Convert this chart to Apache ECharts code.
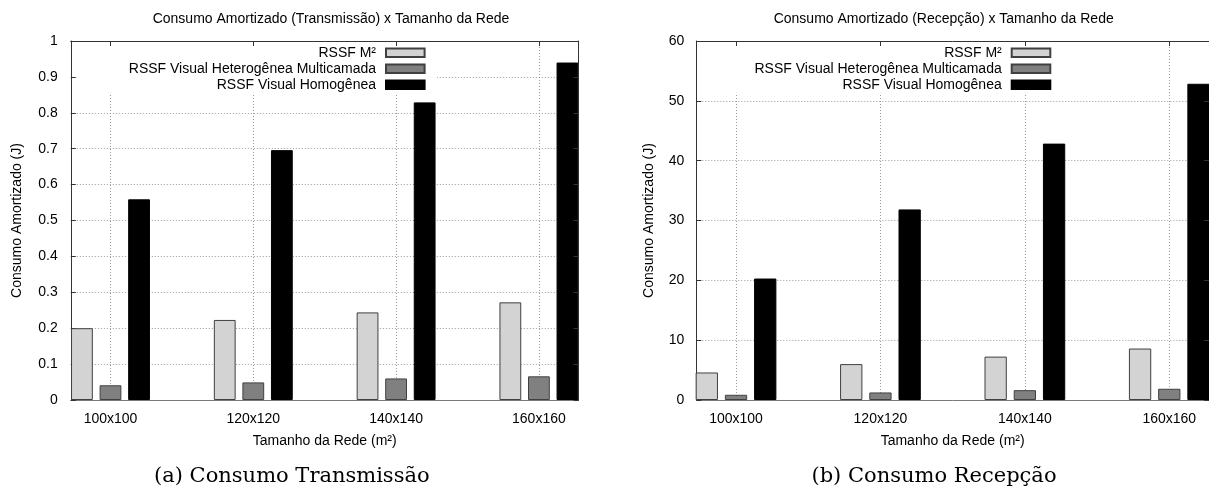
<!DOCTYPE html>
<html><head><meta charset="utf-8">
<script src="https://cdn.jsdelivr.net/npm/echarts@6/dist/echarts.min.js"></script>
<style>html,body{margin:0;padding:0;background:#fff}#c{width:1209px;height:491px}</style>
</head><body><div id="c"></div>
<script>
// ---- data ----
const categories = ['100x100', '120x120', '140x140', '160x160'];
const seriesNames = ['RSSF M²', 'RSSF Visual Heterogênea Multicamada', 'RSSF Visual Homogênea'];
const txM2  = [0.200, 0.223, 0.244, 0.272];
const txHet = [0.041, 0.049, 0.060, 0.066];
const txHom = [0.559, 0.696, 0.829, 0.940];
const rxM2  = [4.6, 6.0, 7.25, 8.6];
const rxHet = [0.87, 1.26, 1.64, 1.88];
const rxHom = [20.3, 31.85, 42.85, 52.85];
const titleTx = 'Consumo Amortizado (Transmissão) x Tamanho da Rede';
const titleRx = 'Consumo Amortizado (Recepção) x Tamanho da Rede';
const captionTx = '(a) Consumo Transmissão';
const captionRx = '(b) Consumo Recepção';
const xName = 'Tamanho da Rede (m²)';
const yName = 'Consumo Amortizado (J)';

// ---- styles / layout ----
const FONT = 'Liberation Sans';
const fills = ['#d3d3d3', '#808080', '#000000'];
const borders = ['#404040', '#404040', '#000000'];
const catIdx = categories.map((c, i) => i);
const pairs = vals => vals.map((v, i) => [catIdx[i], v]);

const panels = [
  {left: 70.8, top: 41, width: 507.8, height: 359, xmin: -0.278, xmax: 3.278, ymax: 1, yint: 0.1,
   barW: 21.8, nameGap: 47, labelMargin: 13, data: [txM2, txHet, txHom], legendRight: 772.4},
  {left: 696.3, top: 41, width: 515.8, height: 359, xmin: -0.275, xmax: 3.275, ymax: 60, yint: 10,
   barW: 22.3, nameGap: 40, labelMargin: 12, data: [rxM2, rxHet, rxHom], legendRight: 146.7}
];

const grid = [], xAxis = [], yAxis = [], series = [], legend = [];
const grayDot = {color: '#9a9a9a', width: 1, type: [1, 2]};
panels.forEach((p, g) => {
  grid.push({left: p.left, top: p.top, width: p.width, height: p.height, show: false});
  xAxis.push({
    type: 'value', gridIndex: g, min: p.xmin, max: p.xmax, position: 'bottom',
    axisLine: {show: true, onZero: false, lineStyle: {color: '#7a7a7a', width: 1}},
    axisTick: {show: true, inside: true, length: 5, customValues: catIdx, lineStyle: {color: '#333'}},
    axisLabel: {customValues: catIdx, formatter: v => categories[Math.round(v)], fontFamily: FONT,
                fontSize: 14, color: '#000', margin: 12},
    splitLine: {show: true, lineStyle: grayDot},
    name: xName, nameLocation: 'middle', nameGap: 34,
    nameTextStyle: {fontFamily: FONT, fontSize: 14, color: '#000'}
  });
  xAxis.push({
    type: 'value', gridIndex: g, min: p.xmin, max: p.xmax, position: 'top', z: 5,
    axisLine: {show: true, onZero: false, lineStyle: {color: '#333', width: 1}},
    axisTick: {show: true, inside: true, length: 5, customValues: catIdx, lineStyle: {color: '#333'}},
    axisLabel: {show: false}, splitLine: {show: false}
  });
  yAxis.push({
    type: 'value', gridIndex: g, min: 0, max: p.ymax, interval: p.yint, position: 'left',
    axisLine: {show: true, onZero: false, lineStyle: {color: '#333', width: 1}},
    axisTick: {show: true, inside: true, length: 5, lineStyle: {color: '#333'}},
    axisLabel: {fontFamily: FONT, fontSize: 14, color: '#000', margin: p.labelMargin},
    splitLine: {show: true, lineStyle: grayDot},
    name: yName, nameLocation: 'middle', nameGap: p.nameGap,
    nameTextStyle: {fontFamily: FONT, fontSize: 14, color: '#000'}
  });
  yAxis.push({
    type: 'value', gridIndex: g, min: 0, max: p.ymax, interval: p.yint, position: 'right', z: 5,
    axisLine: {show: true, onZero: false, lineStyle: {color: '#333', width: 1}},
    axisTick: {show: true, inside: true, length: 5, lineStyle: {color: '#333'}},
    axisLabel: {show: false}, splitLine: {show: false}
  });
  p.data.forEach((vals, s) => {
    series.push({
      type: 'bar', name: seriesNames[s], xAxisIndex: g * 2, yAxisIndex: g * 2,
      data: pairs(vals), barWidth: p.barW, barGap: '31%',
      itemStyle: {color: fills[s], borderColor: borders[s], borderWidth: 1},
      emphasis: {disabled: true}, z: 2
    });
  });
  legend.push({
    data: seriesNames, orient: 'vertical', align: 'right', right: p.legendRight, top: 41.75,
    itemWidth: 38.6, itemHeight: 8.4, itemGap: 0, padding: [3, 11, 0, 52],
    backgroundColor: '#ffffff', selectedMode: false, icon: 'rect', z: 3,
    textStyle: {fontFamily: FONT, fontSize: 14, color: '#000', lineHeight: 16, padding: [0, 5, 0, 0]}
  });
});

const titleStyle = {fontFamily: FONT, fontSize: 14, fontWeight: 'normal', color: '#000'};
const capStyle = {fontFamily: 'DejaVu Serif', fontSize: 21, fontWeight: 'normal', color: '#000'};
const option = {
  animation: false,
  backgroundColor: '#ffffff',
  title: [
    {text: titleTx, left: 331, top: 19.5, textAlign: 'center', textVerticalAlign: 'middle', padding: 0, textStyle: titleStyle},
    {text: titleRx, left: 943.7, top: 19.5, textAlign: 'center', textVerticalAlign: 'middle', padding: 0, textStyle: titleStyle},
    {text: captionTx, left: 291.8, top: 477, textAlign: 'center', textVerticalAlign: 'middle', padding: 0, textStyle: capStyle},
    {text: captionRx, left: 934, top: 477, textAlign: 'center', textVerticalAlign: 'middle', padding: 0, textStyle: capStyle}
  ],
  legend, grid, xAxis, yAxis, series
};
const chart = echarts.init(document.getElementById('c'), null, {renderer: 'canvas', devicePixelRatio: 1});
chart.setOption(option);
</script>
</body></html>
